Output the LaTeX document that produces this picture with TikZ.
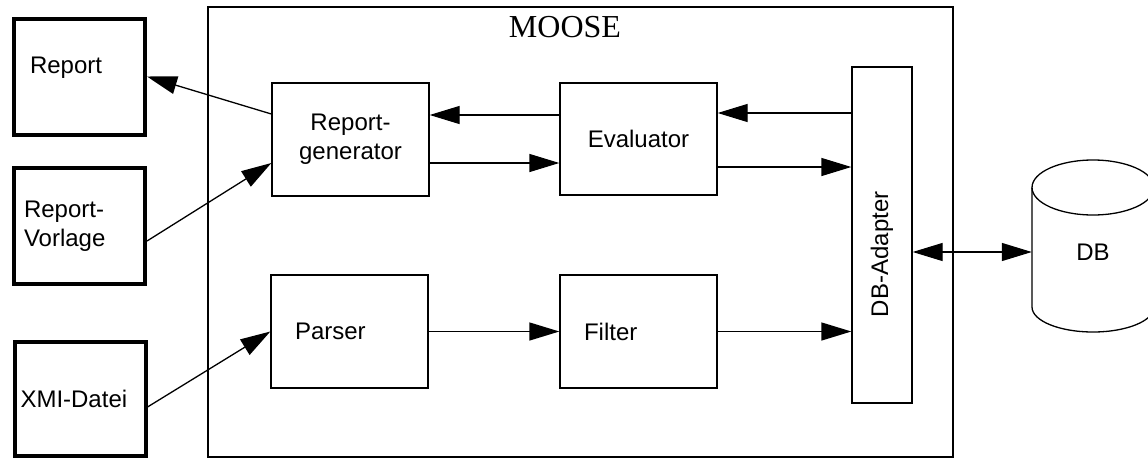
\documentclass[tikz,border=0pt]{standalone}
\usepackage{fontspec}
\setmainfont{Liberation Serif}
\setsansfont{Liberation Sans}
\usetikzlibrary{arrows.meta}

\begin{document}
\begin{tikzpicture}[x=1pt, y=-1pt]

\tikzset{box/.style = {shape=rectangle,draw,line width=1.3pt,minimum width=157pt,minimum height=113pt,font=\sffamily\fontsize{24}{29}\selectfont,align=center}}
\tikzset{leftbox/.style = {box,text width=109pt,inner xsep=24pt,align=left}}
\tikzset{file/.style = {box,line width=4pt,minimum width=131pt,minimum height=116pt,text width=111pt,inner xsep=10pt,align=left}}
\tikzset{edge/.style = {-{Triangle[length=30pt,width=18pt]},line width=1.3pt}}
\useasboundingbox (0,0) rectangle (1148,458);
% frame
\node[draw,line width=1.5pt,minimum width=745pt,minimum height=450pt] (moose) at (580.5,232) {};
\node[font=\rmfamily\fontsize{32}{38}\selectfont] (title) at (565,27) {MOOSE};
% vertices
\node[file,text depth=23pt,inner xsep=16pt,text width=99pt] (report) at (79.5,76.5) {Report};
\node[file] (vorlage) at (79.5,226) {Report-\\Vorlage};
\node[file,minimum height=114pt,inner xsep=6pt,text width=119pt] (xmi) at (80,399) {XMI-Datei};
\node[box] (gen) at (350.5,139.5) {Report-\\generator};
\node[box,minimum height=112pt] (eval) at (638.5,139) {Evaluator};
\node[leftbox] (parser) at (349.5,331.5) {Parser};
\node[leftbox] (filter) at (638.5,331.5) {Filter};
\node[box,rotate=90,minimum width=336pt,minimum height=60pt,text width=164pt,inner xsep=86pt,align=left] (adapter) at (882,235) {DB-Adapter};
\node[font=\sffamily\fontsize{24}{29}\selectfont,minimum width=122pt,minimum height=160pt] (db) at (1093,252) {DB};
\draw[line width=1.3pt] ([yshift=64.5pt]db.center) ellipse [x radius=61pt,y radius=27.5pt];
\draw[line width=1.3pt] ([shift={(-61pt,64.5pt)}]db.center) -- ([shift={(-61pt,-55pt)}]db.center)
  arc [start angle=180,end angle=360,x radius=61pt,y radius=25pt] -- ([shift={(61pt,64.5pt)}]db.center);
% edges
\draw[edge] ([yshift=25.5pt]gen.west) -- (report.east);
\draw[edge] ([yshift=-15pt]vorlage.east) -- ([yshift=-23.5pt]gen.west);
\draw[edge] ([yshift=-8pt]xmi.east) -- (parser.west);
\draw[edge] ([yshift=24pt]eval.west) -- ([yshift=24pt]eval.west -| gen.east);
\draw[edge] ([yshift=-23.5pt]gen.east) -- ([yshift=-23.5pt]gen.east -| eval.west);
\draw[edge] ([yshift=26pt]eval.east -| adapter.north) -- ([yshift=26pt]eval.east);
\draw[edge] ([yshift=-28pt]eval.east) -- ([yshift=-28pt]eval.east -| adapter.north);
\draw[edge] (parser.east) -- (filter.west);
\draw[edge] (filter.east) -- (filter.east -| adapter.north);
\draw[edge,{Triangle[length=30pt,width=18pt]}-{Triangle[length=30pt,width=18pt]}] (db.west -| adapter.south) -- (db.west);
\end{tikzpicture}
\end{document}
